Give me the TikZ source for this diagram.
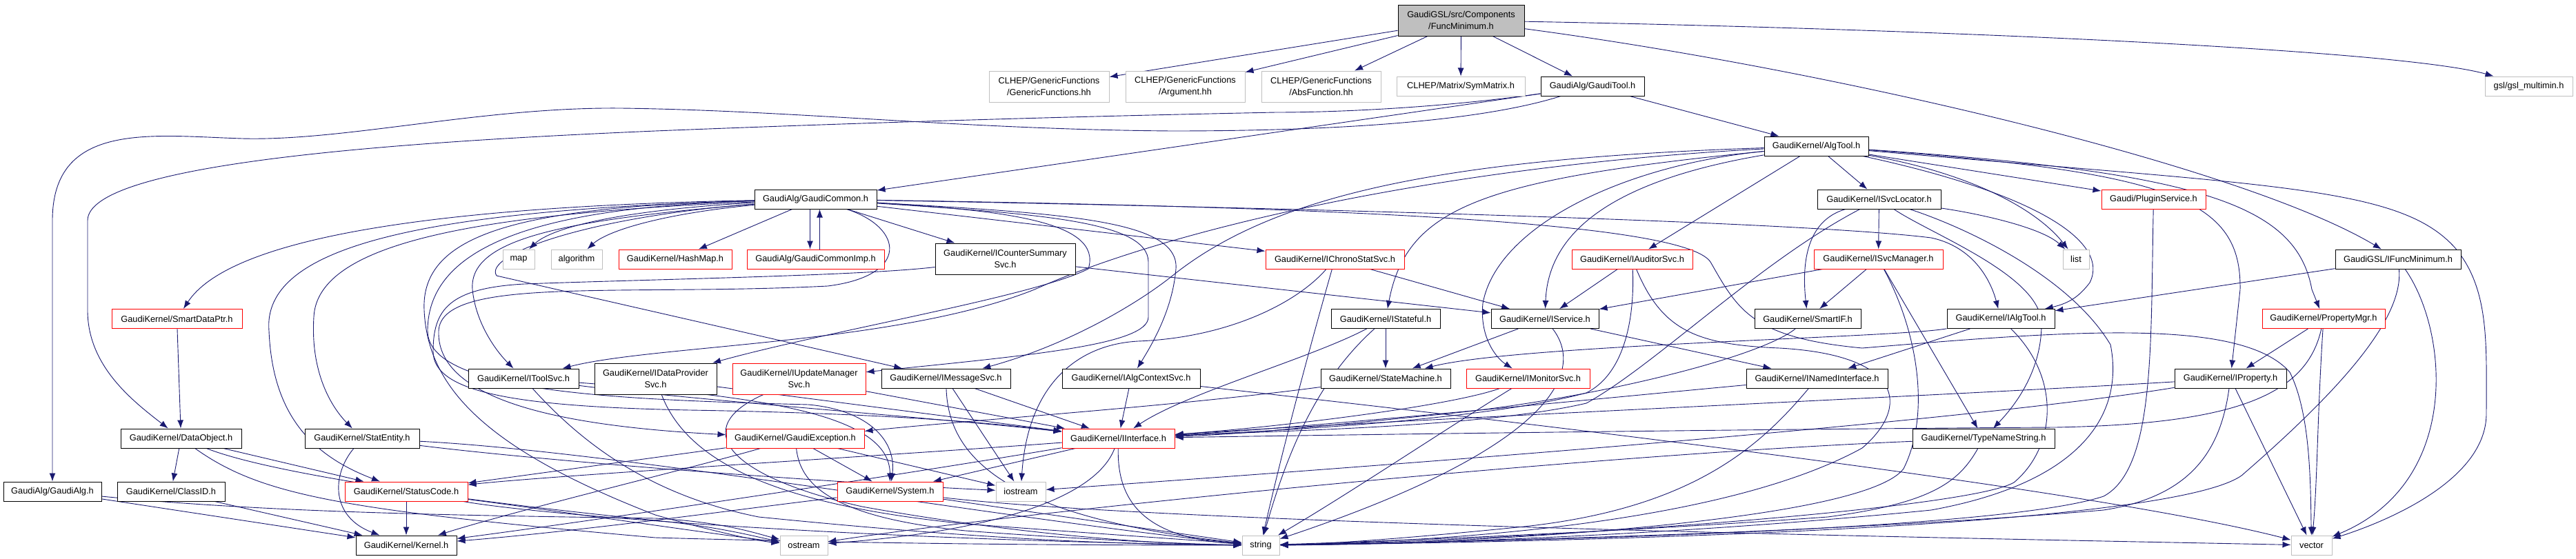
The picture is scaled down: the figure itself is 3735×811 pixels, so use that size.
\documentclass[tikz,border=0pt]{standalone}
\usepackage{fontspec}
\setmainfont{Liberation Sans}
\usetikzlibrary{arrows.meta,backgrounds}
\definecolor{edgec}{HTML}{191970}
\definecolor{gborder}{HTML}{BFBFBF}
\definecolor{fmfill}{HTML}{BFBFBF}
\definecolor{rborder}{HTML}{FF0000}
\tikzset{
 nb/.style={draw=black, line width=1pt, inner sep=0pt, align=center, fill=white,
   font=\fontsize{12.8}{17}\selectfont, minimum height=28pt},
 nr/.style={nb, draw=rborder},
 ng/.style={nb, draw=gborder},
 ed/.style={draw=edgec, line width=0.9pt, -{Latex[length=12pt,width=9pt]}}
}
\begin{document}
\begin{tikzpicture}[x=1pt,y=-1pt]
\useasboundingbox (0,0) rectangle (3735,811);
% ---------- nodes ----------
\node[nb,fill=fmfill,minimum width=183pt,minimum height=45pt] (fm) at (2118.5,29.5) {GaudiGSL/src/Components\\/FuncMinimum.h};
\node[ng,minimum width=174pt,minimum height=45pt] (gf) at (1521,125.5) {CLHEP/GenericFunctions\\/GenericFunctions.hh};
\node[ng,minimum width=173pt,minimum height=45pt] (arg) at (1718.5,125.5) {CLHEP/GenericFunctions\\/Argument.hh};
\node[ng,minimum width=173pt,minimum height=45pt] (abs) at (1915.5,125.5) {CLHEP/GenericFunctions\\/AbsFunction.hh};
\node[ng,minimum width=186pt] (sym) at (2118,125) {CLHEP/Matrix/SymMatrix.h};
\node[nb,minimum width=150pt] (gt) at (2309,125) {GaudiAlg/GaudiTool.h};
\node[ng,minimum width=127pt] (gsl) at (3666.5,125) {gsl/gsl\_multimin.h};
\node[nb,minimum width=151pt] (atl) at (2633.5,212) {GaudiKernel/AlgTool.h};
\node[nb,minimum width=177pt] (gc) at (1182.5,289) {GaudiAlg/GaudiCommon.h};
\node[nb,minimum width=179pt] (sl) at (2724.5,289) {GaudiKernel/ISvcLocator.h};
\node[nr,minimum width=151pt] (ps) at (3122.5,289) {Gaudi/PluginService.h};
\node[ng,minimum width=46pt] (map) at (752,376) {map};
\node[ng,minimum width=74pt] (alg) at (836,376) {algorithm};
\node[nr,minimum width=164pt] (hm) at (979,376) {GaudiKernel/HashMap.h};
\node[nr,minimum width=199pt] (gci) at (1182.5,376) {GaudiAlg/GaudiCommonImp.h};
\node[nb,minimum width=203pt,minimum height=45pt] (css) at (1457.5,375.5) {GaudiKernel/ICounterSummary\\Svc.h};
\node[nr,minimum width=201pt] (cs) at (1935.5,376) {GaudiKernel/IChronoStatSvc.h};
\node[nr,minimum width=175pt] (aud) at (2366.5,376) {GaudiKernel/IAuditorSvc.h};
\node[nr,minimum width=187pt] (sm) at (2723.5,376) {GaudiKernel/ISvcManager.h};
\node[ng,minimum width=38pt] (list) at (3010,376) {list};
\node[nb,minimum width=182pt] (ifm) at (3477,376) {GaudiGSL/IFuncMinimum.h};
\node[nr,minimum width=189pt] (sdp) at (256.5,462.5) {GaudiKernel/SmartDataPtr.h};
\node[nb,minimum width=158pt] (ist) at (2009,462.5) {GaudiKernel/IStateful.h};
\node[nb,minimum width=156pt] (isv) at (2240,462.5) {GaudiKernel/IService.h};
\node[nb,minimum width=154pt] (sif) at (2621,462.5) {GaudiKernel/SmartIF.h};
\node[nb,minimum width=156pt] (iat) at (2901,462.5) {GaudiKernel/IAlgTool.h};
\node[nr,minimum width=178pt] (pm) at (3369,462.5) {GaudiKernel/PropertyMgr.h};
\node[nb,minimum width=160pt] (ts) at (759,549) {GaudiKernel/IToolSvc.h};
\node[nb,minimum width=177pt,minimum height=45pt] (dps) at (950.5,549.5) {GaudiKernel/IDataProvider\\Svc.h};
\node[nr,minimum width=193pt,minimum height=45pt] (ums) at (1158.5,549.5) {GaudiKernel/IUpdateManager\\Svc.h};
\node[nb,minimum width=187pt] (msg) at (1371.5,549) {GaudiKernel/IMessageSvc.h};
\node[nb,minimum width=200pt] (acs) at (1640,549) {GaudiKernel/IAlgContextSvc.h};
\node[nb,minimum width=188pt] (smach) at (2009,549) {GaudiKernel/StateMachine.h};
\node[nr,minimum width=179pt] (mon) at (2215.5,549) {GaudiKernel/IMonitorSvc.h};
\node[nb,minimum width=205pt] (nif) at (2634.5,549) {GaudiKernel/INamedInterface.h};
\node[nb,minimum width=162pt] (ip) at (3234,549) {GaudiKernel/IProperty.h};
\node[nb,minimum width=175pt] (dob) at (262.5,636) {GaudiKernel/DataObject.h};
\node[nb,minimum width=166pt] (se) at (525,636) {GaudiKernel/StatEntity.h};
\node[nr,minimum width=200pt] (gex) at (1153,636) {GaudiKernel/GaudiException.h};
\node[nr,minimum width=163pt] (ii) at (1621.5,636) {GaudiKernel/IInterface.h};
\node[nb,minimum width=206pt] (tns) at (2876,636) {GaudiKernel/TypeNameString.h};
\node[nb,minimum width=142pt] (ga) at (76,713) {GaudiAlg/GaudiAlg.h};
\node[nb,minimum width=156pt] (cid) at (248,713) {GaudiKernel/ClassID.h};
\node[nr,minimum width=178pt] (sc) at (589,713) {GaudiKernel/StatusCode.h};
\node[nr,minimum width=153pt] (sys) at (1290.5,713) {GaudiKernel/System.h};
\node[ng,minimum width=72pt] (ios) at (1480,713) {iostream};
\node[nb,minimum width=146pt] (kern) at (589,791) {GaudiKernel/Kernel.h};
\node[ng,minimum width=69pt] (os) at (1165.5,791) {ostream};
\node[ng,minimum width=54pt] (str) at (1828,791) {string};
\node[ng,minimum width=59pt] (vec) at (3351.5,791) {vector};
% ---------- edges ----------
\begin{scope}[on background layer]
% FuncMinimum
\draw[ed] (fm) -- (gf);
\draw[ed] (fm) -- (arg);
\draw[ed] (fm) -- (abs);
\draw[ed] (fm) -- (sym);
\draw[ed] (fm) -- (gt);
\draw[ed] (fm) .. controls (2800,42) and (3480,72) .. (gsl);
\draw[ed] (fm) .. controls (2650,100) and (3250,240) .. (ifm);
% GaudiTool
\draw[ed] (gt) -- (atl);
\draw[ed] (gt) -- (gc);
\draw[ed] (gt) .. controls (2150,175) and (1950,190) .. (1700,190) .. controls (1400,188) and (1150,160) .. (900,157) .. controls (700,155) and (500,205) .. (351,201) .. controls (220,197) and (76,175) .. (76,320) -- (ga);
\draw[ed] (gt) .. controls (2100,155) and (1950,163) .. (1850,163) .. controls (1500,170) and (1200,180) .. (950,190) .. controls (600,205) and (127,235) .. (127,320) -- (127,450) .. controls (127,530) and (190,580) .. (dob);
% AlgTool
\draw[ed] (atl) -- (sl);
\draw[ed] (atl) -- (aud);
\draw[ed] (atl) -- (ps);
\draw[ed] (atl) .. controls (2850,250) and (2950,300) .. (list);
\draw[ed] (atl) .. controls (2950,280) and (3060,350) .. (3030,410) .. controls (3015,430) and (3000,440) .. (iat);
\draw[ed] (atl) .. controls (3150,250) and (3250,290) .. (3248,420) -- (ip);
\draw[ed] (atl) .. controls (3200,250) and (3330,300) .. (3352,420) -- (pm);
\draw[ed] (atl) .. controls (3300,270) and (3480,270) .. (3560,360) .. controls (3610,420) and (3605,500) .. (3605,600) .. controls (3605,700) and (3450,760) .. (vec);
\draw[ed] (atl) .. controls (2350,260) and (2245,330) .. (isv);
\draw[ed] (atl) .. controls (2350,240) and (2170,330) .. (2150,440) .. controls (2145,490) and (2170,520) .. (mon);
\draw[ed] (atl) .. controls (2150,260) and (2040,300) .. (ist);
\draw[ed] (atl) .. controls (2100,230) and (1850,280) .. (1700,400) .. controls (1650,440) and (1550,500) .. (msg);
\draw[ed] (atl) .. controls (2100,240) and (1700,330) .. (1500,420) .. controls (1300,500) and (950,500) .. (ts);
% ISvcLocator
\draw[ed] (sl) -- (sm);
\draw[ed] (sl) .. controls (2870,310) and (2960,330) .. (list);
\draw[ed] (sl) .. controls (2620,320) and (2612,380) .. (sif);
\draw[ed] (sl) .. controls (2550,380) and (2400,530) .. (2300,585) .. controls (2150,620) and (1850,625) .. (ii);
\draw[ed] (sl) .. controls (2800,340) and (2960,400) .. (2960,470) .. controls (2960,540) and (2920,590) .. (tns);
\draw[ed] (sl) .. controls (2850,330) and (3000,400) .. (3060,500) .. controls (3080,600) and (3020,700) .. (2800,740) .. controls (2400,780) and (2000,790) .. (str);
% ISvcManager
\draw[ed] (sm) -- (isv);
\draw[ed] (sm) -- (sif);
\draw[ed] (sm) -- (tns);
\draw[ed] (sm) .. controls (2780,480) and (2800,600) .. (2760,680) .. controls (2700,760) and (2100,790) .. (str);
% SmartIF
\draw[ed] (sif) .. controls (2550,520) and (2300,580) .. (2100,600) .. controls (1900,620) and (1800,630) .. (ii);
% IAuditorSvc
\draw[ed] (aud) -- (isv);
\draw[ed] (aud) .. controls (2370,450) and (2360,540) .. (2300,570) .. controls (2150,610) and (1850,625) .. (ii);
\draw[ed] (aud) .. controls (2410,480) and (2460,500) .. (2580,505) .. controls (2760,515) and (2770,590) .. (2700,650) .. controls (2500,760) and (2100,785) .. (str);
% IChronoStatSvc
\draw[ed] (cs) -- (isv);
\draw[ed] (cs) .. controls (1900,500) and (1860,650) .. (str);
\draw[ed] (cs) .. controls (1880,440) and (1780,490) .. (1650,495) .. controls (1560,500) and (1490,560) .. (ios);
% ICounterSummarySvc
\draw[ed] (css) -- (isv);
\draw[ed] (css) .. controls (1250,400) and (950,405) .. (760,412) .. controls (650,418) and (628,450) .. (628,510) .. controls (628,570) and (750,590) .. (1000,595) .. controls (1300,600) and (1450,615) .. (ii);
% IStateful
\draw[ed] (ist) -- (smach);
\draw[ed] (ist) .. controls (1900,520) and (1720,570) .. (ii);
\draw[ed] (ist) .. controls (1900,560) and (1860,680) .. (str);
% IService
\draw[ed] (isv) -- (smach);
\draw[ed] (isv) -- (nif);
\draw[ed] (isv) .. controls (2300,540) and (2250,650) .. (str);
% StateMachine
\draw[ed] (smach) .. controls (1700,590) and (1400,610) .. (gex);
% IMonitorSvc
\draw[ed] (mon) .. controls (2100,590) and (1850,620) .. (ii);
\draw[ed] (mon) .. controls (2100,620) and (1950,720) .. (str);
% INamedInterface
\draw[ed] (nif) .. controls (2300,580) and (1900,620) .. (ii);
\draw[ed] (nif) .. controls (2550,650) and (2450,740) .. (2200,765) .. controls (2000,785) and (1900,790) .. (str);
% IAlgTool
\draw[ed] (iat) -- (nif);
\draw[ed] (iat) .. controls (2750,490) and (2200,500) .. (smach);
\draw[ed] (iat) .. controls (2990,550) and (2980,650) .. (2920,700) .. controls (2850,740) and (2200,785) .. (str);
% IFuncMinimum
\draw[ed] (ifm) -- (iat);
\draw[ed] (ifm) .. controls (3485,460) and (3400,560) .. (3250,690) .. controls (3150,760) and (2400,785) .. (str);
\draw[ed] (ifm) .. controls (3550,480) and (3570,700) .. (vec);
% PropertyMgr
\draw[ed] (pm) -- (ip);
\draw[ed] (pm) .. controls (3360,600) and (3360,700) .. (vec);
\draw[ed] (pm) .. controls (3345,570) and (3250,615) .. (2980,620) .. controls (2600,622) and (2000,630) .. (ii);
% IProperty
\draw[ed] (ip) -- (vec);
\draw[ed] (ip) .. controls (3220,650) and (3180,720) .. (3050,740) .. controls (2700,770) and (2200,785) .. (str);
\draw[ed] (ip) .. controls (2800,575) and (2000,610) .. (ii);
\draw[ed] (ip) .. controls (2800,620) and (1800,690) .. (ios);
% PluginService
\draw[ed] (ps) .. controls (3118,500) and (3125,680) .. (3050,720) .. controls (2900,770) and (2200,785) .. (str);
% TypeNameString
\draw[ed] (tns) .. controls (2840,700) and (2800,730) .. (2650,750) .. controls (2300,775) and (2000,785) .. (str);
\draw[ed] (tns) .. controls (2300,660) and (1500,740) .. (os);
% GaudiCommon
\draw[ed] (gc) .. controls (900,305) and (800,330) .. (map);
\draw[ed] (gc) .. controls (960,310) and (880,335) .. (alg);
\draw[ed] (gc) -- (hm);
\draw[ed] ([xshift=-8pt]gc.south) -- ([xshift=-8pt]gci.north);
\draw[ed] ([xshift=6pt]gci.north) -- ([xshift=6pt]gc.south);
\draw[ed] (gc) -- (css);
\draw[ed] (gc) -- (cs);
\draw[ed] (gc) .. controls (600,300) and (330,350) .. (sdp);
\draw[ed] (gc) .. controls (600,305) and (380,360) .. (390,480) .. controls (395,600) and (450,660) .. (sc);
\draw[ed] (gc) .. controls (700,310) and (460,350) .. (455,460) .. controls (450,540) and (480,590) .. (se);
\draw[ed] (gc) .. controls (800,320) and (680,350) .. (685,420) .. controls (690,470) and (720,510) .. (ts);
\draw[ed] (gc) .. controls (850,315) and (700,370) .. (720,400) -- (msg);
\draw[ed] (gc) .. controls (750,300) and (610,340) .. (615,450) .. controls (620,560) and (700,650) .. (950,747) .. controls (1030,770) and (1100,785) .. (os);
\draw[ed] (gc) .. controls (800,300) and (620,350) .. (620,480) .. controls (620,570) and (900,580) .. (1172,587) .. controls (1260,595) and (1300,640) .. (sys);
\draw[ed] (gc) .. controls (1310,330) and (1320,400) .. (1200,415) .. controls (900,430) and (640,400) .. (636,480) .. controls (632,590) and (850,620) .. (gex);
\draw[ed] (gc) .. controls (1450,305) and (1600,320) .. (1578,390) .. controls (1500,430) and (1200,480) .. (dps);
\draw[ed] (gc) .. controls (1500,310) and (1665,320) .. (1665,380) -- (1665,460) .. controls (1665,500) and (1500,515) .. (ums);
\draw[ed] (gc) .. controls (1550,310) and (1710,320) .. (1705,390) .. controls (1700,450) and (1670,500) .. (acs);
\draw[ed] (gc) .. controls (1800,300) and (2600,320) .. (2800,345) .. controls (2870,360) and (2890,420) .. (iat);
\draw[ed] (gc) .. controls (1900,300) and (2440,320) .. (2480,380) .. controls (2520,450) and (2540,490) .. (2700,505) .. controls (3000,480) and (3250,460) .. (3320,540) .. controls (3350,600) and (3350,700) .. (vec);
% SmartDataPtr / DataObject
\draw[ed] (sdp) -- (dob);
\draw[ed] (dob) -- (cid);
\draw[ed] (dob) -- (sc);
\draw[ed] (dob) .. controls (380,720) and (500,740) .. (950,780) .. controls (1300,790) and (1600,791) .. (str);
\draw[ed] (dob) .. controls (400,690) and (700,730) .. (950,755) .. controls (1050,765) and (1100,780) .. (os);
% GaudiAlg, ClassID, StatusCode
\draw[ed] (ga) -- (kern);
\draw[ed] (ga) .. controls (400,745) and (700,748) .. (950,752) .. controls (1050,757) and (1100,775) .. (os);
\draw[ed] (cid) -- (kern);
\draw[ed] (sc) -- (kern);
\draw[ed] (sc) .. controls (800,750) and (1300,785) .. (str);
\draw[ed] (sc) .. controls (800,740) and (1000,770) .. (os);
% StatEntity
\draw[ed] (se) .. controls (480,690) and (480,750) .. (kern);
\draw[ed] (se) .. controls (900,655) and (1500,760) .. (str);
\draw[ed] (se) .. controls (800,670) and (1200,700) .. (ios);
% IToolSvc
\draw[ed] (ts) .. controls (1000,580) and (1400,610) .. (ii);
\draw[ed] (ts) .. controls (1100,575) and (1290,600) .. (sys);
\draw[ed] (ts) .. controls (850,650) and (950,720) .. (1100,750) .. controls (1400,780) and (1600,790) .. (str);
% IDataProviderSvc
\draw[ed] (dps) -- (ii);
\draw[ed] (dps) .. controls (1000,680) and (1150,735) .. (1400,760) .. controls (1600,775) and (1750,785) .. (str);
% IUpdateManagerSvc
\draw[ed] (ums) -- (ii);
\draw[ed] (ums) .. controls (1000,620) and (1050,690) .. (1250,735) .. controls (1500,780) and (1700,790) .. (str);
% IMessageSvc
\draw[ed] (msg) -- (ii);
\draw[ed] (msg) -- (ios);
\draw[ed] (msg) .. controls (1375,660) and (1450,750) .. (str);
% IAlgContextSvc
\draw[ed] (acs) -- (ii);
\draw[ed] (acs) .. controls (2000,590) and (3000,700) .. (vec);
% GaudiException
\draw[ed] (gex) -- (sc);
\draw[ed] (gex) .. controls (1000,680) and (750,740) .. (kern);
\draw[ed] (gex) -- (sys);
\draw[ed] (gex) -- (ios);
\draw[ed] (gex) .. controls (1160,700) and (1200,750) .. (1400,770) .. controls (1600,785) and (1750,790) .. (str);
% IInterface
\draw[ed] (ii) -- (sys);
\draw[ed] (ii) .. controls (1300,660) and (800,690) .. (sc);
\draw[ed] (ii) .. controls (1300,690) and (900,750) .. (kern);
\draw[ed] (ii) .. controls (1590,720) and (1450,770) .. (os);
\draw[ed] (ii) .. controls (1620,720) and (1650,780) .. (str);
% System
\draw[ed] (sys) .. controls (1100,735) and (850,770) .. (kern);
\draw[ed] (sys) -- (str);
\draw[ed] (sys) .. controls (1700,760) and (2800,780) .. (vec);
\end{scope}
\end{tikzpicture}
\end{document}
